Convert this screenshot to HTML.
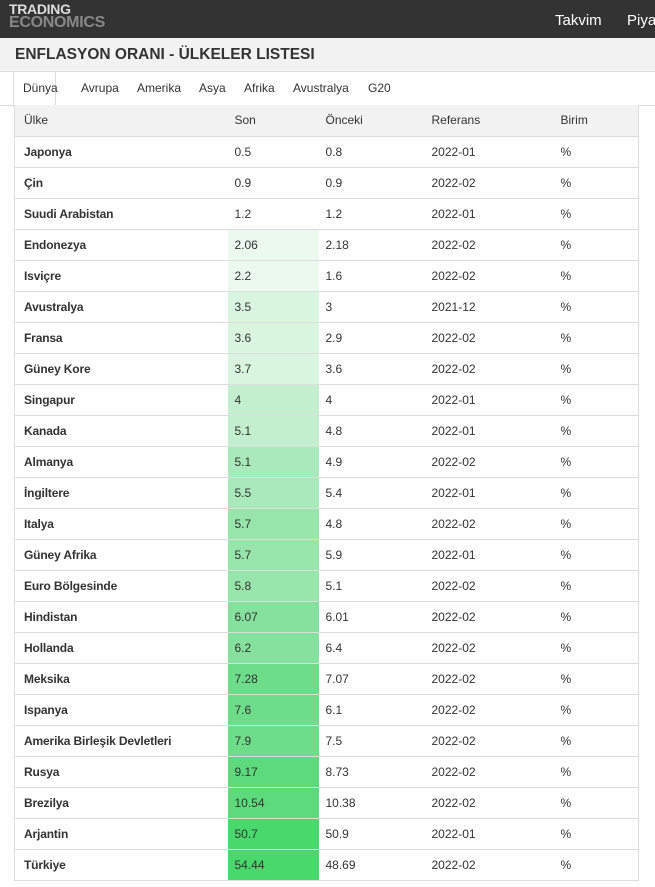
<!DOCTYPE html>
<html><head><meta charset="utf-8"><style>
*{margin:0;padding:0;box-sizing:border-box}
body{width:655px;height:887px;overflow:hidden;background:#fff;font-family:"Liberation Sans",Arial,sans-serif;color:#333}
.top{height:38px;background:#333;position:relative}
.logo{position:absolute;left:9px;top:3px;color:#ddd;font-weight:bold;font-size:14px;line-height:13px;letter-spacing:-0.3px}
.logo span{color:#888;font-size:16px}
.nav{position:absolute;top:12px;color:#fff;font-size:15px}
.title{height:34px;background:#f2f2f2;border-bottom:1px solid #ddd;padding:8px 0 0 15px;font-size:15.5px;font-weight:bold;color:#333}
.tabs{height:34px;position:relative;border-bottom:1px solid #ddd;font-size:12px}
.tabs span{position:absolute;top:9px}
.tab0{position:absolute;left:13px;top:0;width:43px;height:35px;border-left:1px solid #ddd;border-right:1px solid #ddd;background:#fff}
table{position:absolute;left:14px;top:105px;width:625px;border-collapse:collapse;border-left:1px solid #ddd;border-right:1px solid #ddd;font-size:12px}
td,th{height:31px;border-bottom:1px solid #ddd;padding:0;text-align:left;font-weight:normal;vertical-align:middle}
th{background:#f2f2f2;height:31px}
td:first-child,th:first-child{padding-left:9px;width:213px}
td:first-child{font-weight:bold;letter-spacing:-0.15px}
td:nth-child(2),th:nth-child(2){padding-left:7px;width:91px}
td:nth-child(3),th:nth-child(3){padding-left:7px;width:106px}
td:nth-child(4),th:nth-child(4){padding-left:7px;width:129px}
td:nth-child(5),th:nth-child(5){padding-left:7px}
</style></head><body>
<div class="top"><div class="logo">TRADING<br><span>ECONOMICS</span></div>
<div class="nav" style="left:555px">Takvim</div><div class="nav" style="left:627px">Piya</div></div>
<div class="title">ENFLASYON ORANI - ÜLKELER LISTESI</div>
<div class="tabs"><div class="tab0"></div>
<span style="left:23px">Dünya</span><span style="left:81px">Avrupa</span><span style="left:137px">Amerika</span><span style="left:199px">Asya</span><span style="left:244px">Afrika</span><span style="left:293px">Avustralya</span><span style="left:368px">G20</span></div>
<table>
<tr><th>Ülke</th><th>Son</th><th>Önceki</th><th>Referans</th><th>Birim</th></tr>
<tr><td>Japonya</td><td>0.5</td><td>0.8</td><td>2022-01</td><td>%</td></tr>
<tr><td>Çin</td><td>0.9</td><td>0.9</td><td>2022-02</td><td>%</td></tr>
<tr><td>Suudi Arabistan</td><td>1.2</td><td>1.2</td><td>2022-01</td><td>%</td></tr>
<tr><td>Endonezya</td><td style="background:#ebf9ef">2.06</td><td>2.18</td><td>2022-02</td><td>%</td></tr>
<tr><td>Isviçre</td><td style="background:#ebf9ef">2.2</td><td>1.6</td><td>2022-02</td><td>%</td></tr>
<tr><td>Avustralya</td><td style="background:#d9f4df">3.5</td><td>3</td><td>2021-12</td><td>%</td></tr>
<tr><td>Fransa</td><td style="background:#d9f4df">3.6</td><td>2.9</td><td>2022-02</td><td>%</td></tr>
<tr><td>Güney Kore</td><td style="background:#d9f4df">3.7</td><td>3.6</td><td>2022-02</td><td>%</td></tr>
<tr><td>Singapur</td><td style="background:#c3efcf">4</td><td>4</td><td>2022-01</td><td>%</td></tr>
<tr><td>Kanada</td><td style="background:#c3efcf">5.1</td><td>4.8</td><td>2022-01</td><td>%</td></tr>
<tr><td>Almanya</td><td style="background:#a9e9bb">5.1</td><td>4.9</td><td>2022-02</td><td>%</td></tr>
<tr><td>İngiltere</td><td style="background:#a9e9bb">5.5</td><td>5.4</td><td>2022-01</td><td>%</td></tr>
<tr><td>Italya</td><td style="background:#97e5ab">5.7</td><td>4.8</td><td>2022-02</td><td>%</td></tr>
<tr><td>Güney Afrika</td><td style="background:#97e5ab">5.7</td><td>5.9</td><td>2022-01</td><td>%</td></tr>
<tr><td>Euro Bölgesinde</td><td style="background:#97e5ab">5.8</td><td>5.1</td><td>2022-02</td><td>%</td></tr>
<tr><td>Hindistan</td><td style="background:#86e19e">6.07</td><td>6.01</td><td>2022-02</td><td>%</td></tr>
<tr><td>Hollanda</td><td style="background:#86e19e">6.2</td><td>6.4</td><td>2022-02</td><td>%</td></tr>
<tr><td>Meksika</td><td style="background:#6edd8a">7.28</td><td>7.07</td><td>2022-02</td><td>%</td></tr>
<tr><td>Ispanya</td><td style="background:#6edd8a">7.6</td><td>6.1</td><td>2022-02</td><td>%</td></tr>
<tr><td>Amerika Birleşik Devletleri</td><td style="background:#6edd8a">7.9</td><td>7.5</td><td>2022-02</td><td>%</td></tr>
<tr><td>Rusya</td><td style="background:#5ddb7c">9.17</td><td>8.73</td><td>2022-02</td><td>%</td></tr>
<tr><td>Brezilya</td><td style="background:#5ddb7c">10.54</td><td>10.38</td><td>2022-02</td><td>%</td></tr>
<tr><td>Arjantin</td><td style="background:#48d86c">50.7</td><td>50.9</td><td>2022-01</td><td>%</td></tr>
<tr><td>Türkiye</td><td style="background:#48d86c">54.44</td><td>48.69</td><td>2022-02</td><td>%</td></tr>
</table>
</body></html>
